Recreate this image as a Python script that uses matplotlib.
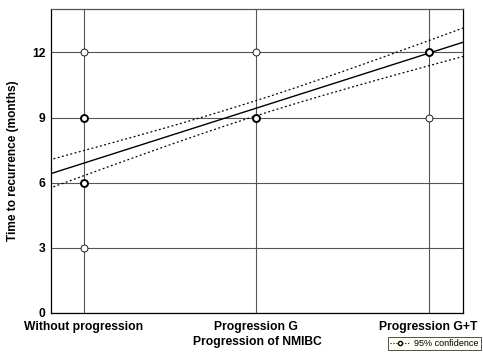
import numpy as np
import matplotlib
matplotlib.use("Agg")
import matplotlib.pyplot as plt
from matplotlib.lines import Line2D

plt.rcParams.update({"font.family": ["Liberation Sans", "DejaVu Sans"], "font.weight": "bold"})

categories = ["Without progression", "Progression G", "Progression G+T"]
# observed values (x = category index, y = months); heavy = overlapping points
pt_x = [0, 0, 0, 0, 1, 1, 2, 2]
pt_y = [3, 6, 9, 12, 9, 12, 9, 12]
pt_heavy = [False, True, True, False, True, False, False, True]
# linear fit and 95% confidence band parameters
intercept = 6.9
slope = 2.53
ci_center = 1.0
ci_a = 0.35   # half-width at the centre
ci_b = 0.46   # growth with distance from centre

fig = plt.figure(figsize=(4.83, 3.58), dpi=100)
ax = fig.add_axes([0.1056, 0.1257, 0.853, 0.8493])

xs = np.linspace(-0.2, 2.2, 200)
fit = intercept + slope * xs
half = np.sqrt(ci_a ** 2 + (ci_b * (xs - ci_center)) ** 2)

ax.grid(True, color="#555555", lw=0.8)
ax.set_axisbelow(True)
ax.plot(xs, fit, color="k", lw=1.0, zorder=3)
ax.plot(xs, fit + half, color="k", lw=0.9, ls=(0, (1.5, 2)), zorder=3)
ax.plot(xs, fit - half, color="k", lw=0.9, ls=(0, (1.5, 2)), zorder=3)
for x, y, h in zip(pt_x, pt_y, pt_heavy):
    ax.plot(x, y, "o", ms=5, mfc="white", mec="k", mew=1.4 if h else 0.6, zorder=4)

ax.set_xlim(-0.19, 2.2)
ax.set_ylim(0, 14)
ax.set_xticks(range(len(categories)))
ax.set_xticklabels(categories, fontsize=8.7, fontweight="bold")
ax.set_yticks([0, 3, 6, 9, 12])
ax.set_yticklabels(["0", "3", "6", "9", "12"], fontsize=8.7, fontweight="bold")
ax.tick_params(axis="x", length=0, pad=6)
ax.tick_params(axis="y", length=0, pad=4)
for s in ax.spines.values():
    s.set_linewidth(0.9)
ax.spines["top"].set_color("#555555")
ax.set_xlabel("Progression of NMIBC", fontsize=8.7, fontweight="bold", labelpad=2)
ax.set_ylabel("Time to recurrence (months)", fontsize=8.6, fontweight="bold")
ax.yaxis.set_label_coords(-0.078, 0.5)

h = Line2D([], [], color="k", ls=":", lw=0.8, marker="o", ms=3, mfc="white", mec="k")
leg = fig.legend(handles=[h], labels=["95% confidence"], loc="lower right",
                 bbox_to_anchor=(0.995, 0.022), fontsize=6.5, frameon=True, fancybox=False,
                 handlelength=2.2, handletextpad=0.4, borderpad=0.25, borderaxespad=0)
leg.get_frame().set_facecolor("#fffff0")
leg.get_frame().set_edgecolor("k")
leg.get_frame().set_linewidth(0.6)
for t in leg.get_texts():
    t.set_fontweight("normal")

fig.savefig("out.png", dpi=100)
